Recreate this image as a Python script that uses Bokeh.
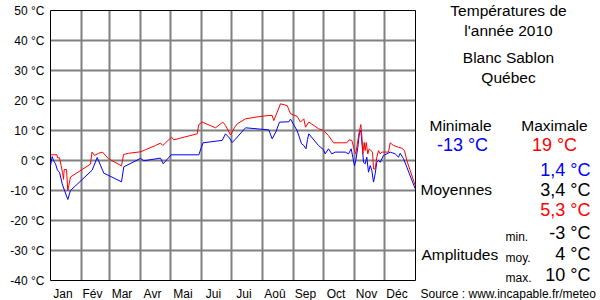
from bokeh.plotting import figure
from bokeh.models import Range1d
from bokeh.core.properties import value
from bokeh.embed import file_html
from bokeh.resources import INLINE

# ---- data (day of year, °C) ----
max_days = [0, 6.5, 7, 9, 12, 13, 13.7, 16, 17.3, 20, 40, 41.5, 44, 48, 52, 58, 71, 73, 78, 90,
            95, 105, 110, 112.3, 121, 123.3, 146.7, 148.3, 151.7, 165, 172.3, 175, 180, 184, 186.7,
            195, 208, 218, 221.7, 223.3, 230, 236.7, 240, 246.7, 250, 253.3, 255, 258.3, 261, 268,
            273, 278, 283, 296.3, 298.7, 301.3, 304, 305.3, 307.3, 308.7, 310.3, 311.3, 312.3,
            313.7, 314.7, 315.7, 317.3, 318.7, 320.3, 322, 323, 324.7, 326.3, 328, 329.7, 331.3,
            338, 339.7, 343, 348, 351.3, 354, 356.3, 364.7]
max_vals = [1.9, 1.9, 0.9, 0.9, -4, -6.3, -3, -3, -10, -5.5, -1.2, 2.8, 1.7, 2.4, 2.8, 0.6, -1.8, 2, 2.4, 2.9,
            3.6, 5, 5.8, 5, 7.8, 6.9, 8.9, 12, 12.8, 10.9, 12.8, 11.7, 8.5, 11, 12.2,
            13.9, 14.6, 15, 15, 13.3, 18.9, 18.3, 15.6, 14.7, 12.8, 13.9, 11.1, 12.8, 12.2, 10.6,
            10, 8.3, 5.9, 5.9, 6.9, 6.7, 3.3, 2.2, 6.7, 9.4, 12, 8.3, 2.2,
            6, 3.3, 6, 2.2, 3.9, 3.3, 2.8, -2.8, -2.8, 1.1, 3.3, 2.2, 2.8,
            2.8, 5.9, 5, 4.4, 4.1, 3.3, 0, -8.3]

min_days = [0, 1.7, 3.3, 5, 7, 9, 11.7, 14, 17.3, 20, 41.7, 46.7, 53.3, 71, 73.3, 90, 93.3, 110,
            112.7, 120.7, 148.3, 152.5, 171.7, 175, 179, 181.7, 184.3, 195, 218.3, 221.7, 225.7,
            229, 238.3, 240, 246.7, 251, 253.3, 255.5, 257, 258.3, 268, 273, 274.7, 278, 281.3,
            284.7, 294.7, 298, 300.7, 302.3, 304, 305.3, 307.3, 309, 310.3, 311.7, 313, 314.7,
            316.3, 318, 319.7, 321.3, 323, 324.7, 326.3, 328, 329.7, 333, 336.3, 339.7, 344.7,
            348, 349.7, 353, 356.3, 364.7]
min_vals = [-1.7, 1.3, -0.2, -1.1, -3.3, -3.9, -7.8, -10, -13, -10, -3.2, 1.0, -4.2, -7.1, -2.1, 0.7, -0.1, 0.8,
            -1.1, 1.9, 1.9, 5.9, 6.7, 8.9, 7.5, 6, 6.9, 10.9, 10.2, 7.2, 9.8,
            12.8, 12.9, 13.8, 9.9, 5.6, 5, 3.9, 7, 8.9, 5, 3.6, 2.2, 3.9, 2.2,
            2.8, 2.8, 2.2, 3.9, 1.1, -1.7, 0, 4.4, 9.4, 10, 5, -0.6, -1.1,
            1.1, -3.9, -1.7, -3.3, -7.2, -4.4, -0.6, 0, -0.6, 1.7, 2.2, 2.8, 2.2,
            1.1, 2.4, 0.6, -2.2, -9.4]

months = ["Jan", "Fév", "Mar", "Avr", "Mai", "Jui", "Jui", "Aoû", "Sep", "Oct", "Nov", "Déc"]
month_lengths = [31, 28, 31, 30, 31, 30, 31, 31, 30, 31, 30, 31]
y_ticks = [-40, -30, -20, -10, 0, 10, 20, 30, 40, 50]

Y_MIN, Y_MAX = -40, 50
DAYS = 365
month_starts = [sum(month_lengths[:i]) for i in range(12)]
month_mids = [s + l / 2 - 3 for s, l in zip(month_starts, month_lengths)]

FONT = value("Liberation Sans")

# Whole canvas is the frame: 1 px per day, 3 px per °C
def px(x):
    return x - 50

def py(y):
    return (160 - y) / 3

p = figure(width=600, height=300, output_backend="svg", toolbar_location=None,
           x_range=Range1d(px(0), px(600)), y_range=Range1d(py(300), py(0)),
           min_border=0, x_axis_type=None, y_axis_type=None)
p.background_fill_color = "white"
p.border_fill_color = "white"
p.outline_line_color = None
p.grid.visible = False

# grid
p.segment(x0=month_starts[1:], x1=month_starts[1:], y0=[Y_MIN] * 11, y1=[Y_MAX] * 11,
          line_color="#808080", line_width=2)
inner = y_ticks[1:-1]
p.segment(x0=[0] * len(inner), x1=[DAYS] * len(inner), y0=inner, y1=inner,
          line_color="#808080", line_width=2)

# frame
p.line([0, DAYS, DAYS, 0, 0], [Y_MIN, Y_MIN, Y_MAX, Y_MAX, Y_MIN], line_color="black", line_width=1)

# series
p.line(min_days, min_vals, line_color="#0000ff", line_width=1)
p.line(max_days, max_vals, line_color="#ff0000", line_width=1)

# axis labels
p.text(x=[px(44)] * len(y_ticks), y=y_ticks, text=[f"{v} °C" for v in y_ticks],
       text_font=FONT, text_font_size="12px", text_align="right", text_baseline="middle",
       text_color="black")
p.text(x=month_mids, y=[py(293)] * 12, text=months,
       text_font=FONT, text_font_size="12px", text_align="center", text_baseline="middle",
       text_color="black")

def add(text, x, y, size="15.5px", color="black", align="center"):
    p.text(x=[px(x)], y=[py(y)], text=[text], text_font=FONT, text_font_size=size,
           text_color=color, text_align=align, text_baseline="middle")

add("Températures de", 508, 10)
add("l'année 2010", 508, 30)
add("Blanc Sablon", 508, 57)
add("Québec", 508, 77)
add("Minimale", 460, 125)
add("Maximale", 554, 125)
add("-13 °C", 462, 144, size="18px", color="#0000ff")
add("19 °C", 554, 144, size="18px", color="#ff0000")
add("1,4 °C", 590, 169, size="18px", color="#0000ff", align="right")
add("3,4 °C", 590, 189, size="18px", align="right")
add("5,3 °C", 590, 209, size="18px", color="#ff0000", align="right")
add("Moyennes", 420, 189, align="left")
add("Amplitudes", 421, 254, align="left")
add("min.", 505, 236, size="12px", align="left")
add("moy.", 505, 257, size="12px", align="left")
add("max.", 505, 277, size="12px", align="left")
add("-3 °C", 590, 232, size="18px", align="right")
add("4 °C", 590, 253, size="18px", align="right")
add("10 °C", 590, 274, size="18px", align="right")
add("Source : www.incapable.fr/meteo", 420, 293, size="12px", align="left")

open("out.html", "w").write(file_html(p, INLINE))
